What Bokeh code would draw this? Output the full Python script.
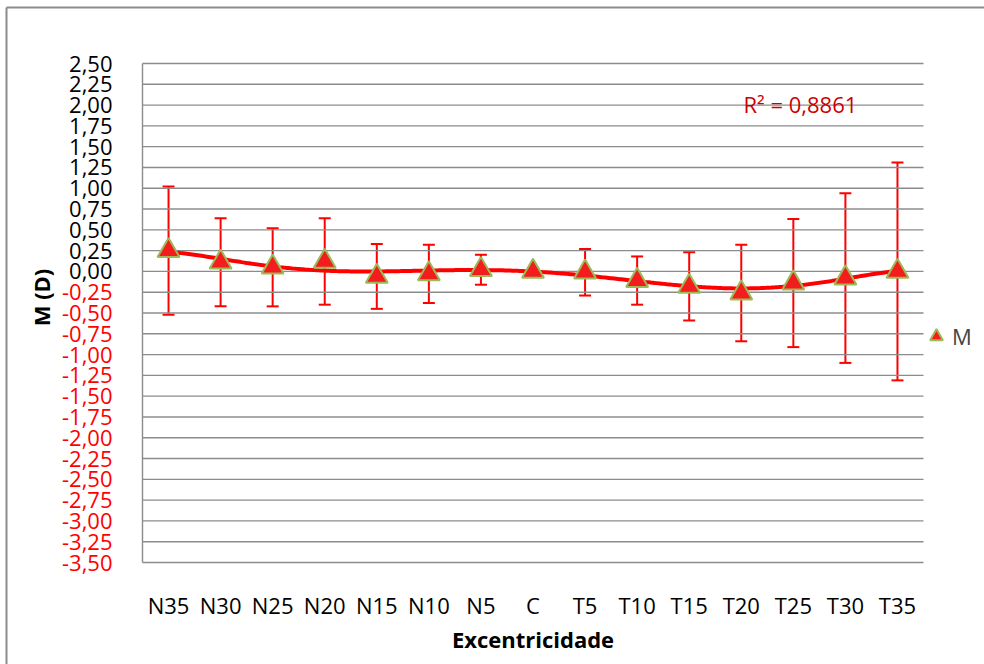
import numpy as np
from bokeh.plotting import figure
from bokeh.models import (ColumnDataSource, Whisker, TeeHead, Legend, LegendItem, Range1d)
from bokeh.embed import file_html
from bokeh.resources import INLINE
from bokeh.core.properties import value

# ---------------- data ----------------
categories = ["N35", "N30", "N25", "N20", "N15", "N10", "N5", "C",
              "T5", "T10", "T15", "T20", "T25", "T30", "T35"]
m_values = [0.25, 0.11, 0.05, 0.12, -0.06, -0.03, 0.02, 0.00,
            -0.01, -0.11, -0.18, -0.26, -0.14, -0.08, 0.00]
m_sd = [0.77, 0.53, 0.47, 0.52, 0.39, 0.35, 0.18, 0.00,
        0.28, 0.29, 0.41, 0.58, 0.77, 1.02, 1.31]
y_ticks = [2.50, 2.25, 2.00, 1.75, 1.50, 1.25, 1.00, 0.75, 0.50, 0.25, 0.00,
           -0.25, -0.50, -0.75, -1.00, -1.25, -1.50, -1.75, -2.00, -2.25,
           -2.50, -2.75, -3.00, -3.25, -3.50]
y_min, y_max = -3.5, 2.5
r2_text = "R² = 0,8861"
trend_order = 6
series_name = "M"
x_title = "Excentricidade"
y_title = "M (D)"

# ---------------- layout (pixels) ----------------
W, H = 984, 664
PX_L, PX_R, PX_T, PX_B = 142, 923, 63, 562   # plot-area edges
FONT = "Open Sans"
FS = "22px"
GRID = "#8c8c8c"

n = len(categories)
ux = (PX_R - PX_L) / n
uy = (PX_B - PX_T) / (y_max - y_min)
x_start, x_end = -PX_L / ux, n + (W - PX_R) / ux
y_start, y_end = y_min - (H - PX_B) / uy, y_max + PX_T / uy


def px2x(px):
    return x_start + px / ux


def py2y(py):
    return y_end - py / uy


# ---------------- derived ----------------
xs = np.arange(n) + 0.5
vals = np.array(m_values)
sds = np.array(m_sd)
src = ColumnDataSource(dict(x=xs, y=vals, upper=vals + sds, lower=vals - sds))

coef = np.polyfit(np.arange(1, n + 1), vals, trend_order)
tx = np.linspace(1, n, 400)
trend_src = ColumnDataSource(dict(x=tx - 0.5, y=np.polyval(coef, tx)))

tick_labels = [f"{t:.2f}".replace(".", ",") for t in y_ticks]
tick_colors = ["black" if t >= 0 else "red" for t in y_ticks]

# ---------------- figure ----------------
p = figure(width=W, height=H, output_backend="svg", toolbar_location=None,
           x_range=Range1d(x_start, x_end), y_range=Range1d(y_start, y_end),
           x_axis_location=None, y_axis_location=None,
           min_border=0, min_border_left=0, min_border_right=0,
           min_border_top=0, min_border_bottom=0)
p.background_fill_color = "white"
p.border_fill_color = "white"
p.outline_line_color = None
p.grid.visible = False

# chart border (top and left visible)
p.segment(x0=[px2x(6), px2x(6)], y0=[py2y(7), py2y(7)],
          x1=[x_end, px2x(6)], y1=[py2y(7), y_start],
          line_color=GRID, line_width=2)

# horizontal gridlines and axis lines
p.segment(x0=[0] * len(y_ticks), x1=[n] * len(y_ticks), y0=y_ticks, y1=y_ticks,
          line_color=GRID, line_width=1.4)
p.segment(x0=[0], x1=[0], y0=[y_min], y1=[y_max], line_color=GRID, line_width=1.4)

# y tick labels
p.text(x=[0] * len(y_ticks), y=y_ticks, text=tick_labels, x_offset=-30,
       text_align="right", text_baseline="middle", text_color=tick_colors,
       text_font=value(FONT), text_font_size=FS)

# x tick labels
p.text(x=xs, y=[y_min] * n, text=categories, y_offset=42,
       text_align="center", text_baseline="middle", text_color="black",
       text_font=value(FONT), text_font_size=FS)

# axis titles
p.text(x=[n / 2], y=[y_min], text=[x_title], y_offset=76,
       text_align="center", text_baseline="middle", text_color="black",
       text_font=value(FONT), text_font_size=FS, text_font_style="bold")
p.text(x=[0], y=[py2y(297)], text=[y_title], x_offset=-102, angle=np.pi / 2,
       text_align="center", text_baseline="middle", text_color="black",
       text_font=value(FONT), text_font_size=FS, text_font_style="bold")

# error bars
p.add_layout(Whisker(source=src, base="x", upper="upper", lower="lower", dimension="height",
                     line_color="red", line_width=2,
                     upper_head=TeeHead(size=12, line_color="red", line_width=2),
                     lower_head=TeeHead(size=12, line_color="red", line_width=2)))

# trendline
p.line("x", "y", source=trend_src, line_color="red", line_width=4)

# markers
sc = p.scatter("x", "y", source=src, marker="triangle", size=22,
               fill_color="#f41d1d", line_color="#9bbb59", line_width=2)

# R² label
p.text(x=[px2x(743)], y=[py2y(103)], text=[r2_text], text_align="left",
       text_baseline="middle", text_color="#cc0000",
       text_font=value(FONT), text_font_size=FS)

legend = Legend(items=[LegendItem(label=series_name, renderers=[sc])],
                location=(920, H - 352), border_line_color=None, background_fill_alpha=0,
                label_text_font=FONT, label_text_font_size=FS, glyph_width=32,
                glyph_height=32, label_standoff=0, padding=0, margin=0, spacing=0)
p.add_layout(legend)

open("out.html", "w").write(file_html(p, INLINE))
